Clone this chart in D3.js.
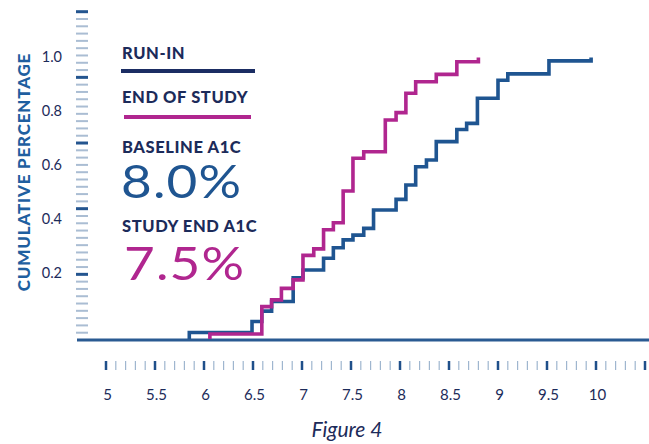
<!DOCTYPE html>
<html><head><meta charset="utf-8">
<script src="https://cdn.jsdelivr.net/npm/d3@7"></script>
<style>html,body{margin:0;padding:0;background:#fff;}svg{display:block;font-family:Lato,"Open Sans",sans-serif;}</style>
</head><body><div id="chart"></div>
<script>
// ---- data ----
const xTickLabels = [5, 5.5, 6, 6.5, 7, 7.5, 8, 8.5, 9, 9.5, 10];
const yTickLabels = [0.2, 0.4, 0.6, 0.8, 1.0];
// Run-in (blue): A1C value at each step, cumulative fraction after step
const runInX = [5.85, 5.85, 6.49, 6.59, 6.69, 6.91, 7.01, 7.22, 7.32, 7.42, 7.52, 7.63, 7.73, 7.96, 8.06, 8.16, 8.27, 8.37, 8.58, 8.68, 8.79, 9.00, 9.10, 9.52, 9.95];
const runInY = [0, 0.023, 0.062, 0.099, 0.133, 0.217, 0.245, 0.287, 0.324, 0.352, 0.369, 0.393, 0.458, 0.496, 0.547, 0.612, 0.636, 0.701, 0.744, 0.766, 0.855, 0.919, 0.942, 0.988, 1.0];
// End of study (magenta)
const endX = [6.06, 6.06, 6.59, 6.69, 6.79, 6.91, 7.01, 7.12, 7.22, 7.32, 7.42, 7.52, 7.63, 7.85, 7.96, 8.06, 8.16, 8.37, 8.58, 8.80];
const endY = [0, 0.018, 0.115, 0.139, 0.18, 0.21, 0.297, 0.32, 0.388, 0.413, 0.526, 0.642, 0.665, 0.778, 0.804, 0.873, 0.914, 0.94, 0.985, 1.0];
const legendLabels = ["RUN-IN", "END OF STUDY"];
const statLabels = ["BASELINE A1C", "STUDY END A1C"];
const statValues = ["8.0%", "7.5%"];

const W = 649, H = 444;
const navy = "#1c2b5a", blue = "#1f5591", magenta = "#b0268f";

const svg = d3.select("#chart").append("svg").attr("width", W).attr("height", H);
svg.append("rect").attr("width", W).attr("height", H).attr("fill", "#fff");

const x = d3.scaleLinear().domain([5, 10]).range([106, 596]);
const y = d3.scaleLinear().domain([0, 1]).range([339, 57.5]);
const labelY = d3.scaleLinear().domain([0.2, 1.0]).range([273, 57]);
const decoY = d3.scaleLinear().domain([0, 45]).range([340, 11.7]);

// decorative y ticks
const yDeco = d3.range(1, 46);
svg.append("g").selectAll("line").data(yDeco).join("line")
  .attr("x1", 76).attr("x2", 88)
  .attr("y1", d => decoY(d)).attr("y2", d => decoY(d))
  .attr("stroke", d => d % 9 === 0 ? "#24558f" : "#aabdd3")
  .attr("stroke-width", d => d % 9 === 0 ? 3 : 2);

// y labels
svg.append("g").selectAll("text").data(yTickLabels).join("text")
  .attr("x", 62).attr("y", d => labelY(d)).attr("dy", "0.36em")
  .attr("text-anchor", "end").attr("font-size", 14.5).attr("fill", navy)
  .text(d => d.toFixed(1));

// y title
svg.append("text").attr("transform", "translate(30,172) rotate(-90)")
  .attr("text-anchor", "middle").attr("font-size", 17).attr("font-weight", 900)
  .attr("letter-spacing", 0.8)
  .attr("fill", "#1f5fa0").text("CUMULATIVE PERCENTAGE");

// x axis line
svg.append("line").attr("x1", 77).attr("x2", W).attr("y1", 340).attr("y2", 340)
  .attr("stroke", "#2a5a92").attr("stroke-width", 3);

// x decorative ticks
const xDeco = d3.range(0, 56).map(i => 5 + i * 0.1);
svg.append("g").selectAll("line").data(xDeco).join("line")
  .attr("x1", d => x(d)).attr("x2", d => x(d))
  .attr("y1", 361).attr("y2", 370)
  .attr("stroke", (d, i) => i % 5 === 0 ? "#1f4f8a" : "#9fb6cf")
  .attr("stroke-width", (d, i) => i % 5 === 0 ? 2.5 : 1.2);

// x labels
svg.append("g").selectAll("text").data(xTickLabels).join("text")
  .attr("x", d => x(d) + 1.5).attr("y", 400)
  .attr("text-anchor", "middle").attr("font-size", 15).attr("fill", navy)
  .text(d => d);

// curves
const line = d3.line().x(d => x(d[0])).y(d => y(d[1])).curve(d3.curveStepAfter);
const runIn = runInX.map((v, i) => [v, runInY[i]]);
const endS = endX.map((v, i) => [v, endY[i]]);
svg.append("path").attr("d", line(runIn)).attr("fill", "none")
  .attr("stroke", blue).attr("stroke-width", 3.6).attr("stroke-linejoin", "miter");
svg.append("path").attr("d", line(endS)).attr("fill", "none")
  .attr("stroke", magenta).attr("stroke-width", 3.6).attr("stroke-linejoin", "miter");

// legend
const lg = svg.append("g");
const lab = (t, yy) => lg.append("text").attr("x", 122).attr("y", yy).attr("font-size", 16.5)
  .attr("font-weight", 900).attr("letter-spacing", 0.6).attr("fill", navy).text(t);
lab(legendLabels[0], 59.3);
lg.append("line").attr("x1", 121).attr("x2", 255).attr("y1", 71).attr("y2", 71).attr("stroke", "#1b2d63").attr("stroke-width", 4);
lab(legendLabels[1], 103.3);
lg.append("line").attr("x1", 124).attr("x2", 251).attr("y1", 117).attr("y2", 117).attr("stroke", magenta).attr("stroke-width", 4);
lab(statLabels[0], 153.3);
lg.append("text").attr("transform", "translate(121,198.3) scale(1.13,1)")
  .attr("font-size", 47).attr("letter-spacing", 1).attr("font-weight", 400).attr("fill", blue).text(statValues[0]);
lab(statLabels[1], 231.7);
lg.append("text").attr("transform", "translate(124,280) scale(1.13,1)")
  .attr("font-size", 47).attr("letter-spacing", 1).attr("font-weight", 400).attr("fill", magenta).text(statValues[1]);

svg.append("text").attr("x", 347).attr("y", 437).attr("text-anchor", "middle")
  .attr("font-size", 21).attr("font-style", "italic").attr("fill", navy).text("Figure 4");
</script></body></html>
